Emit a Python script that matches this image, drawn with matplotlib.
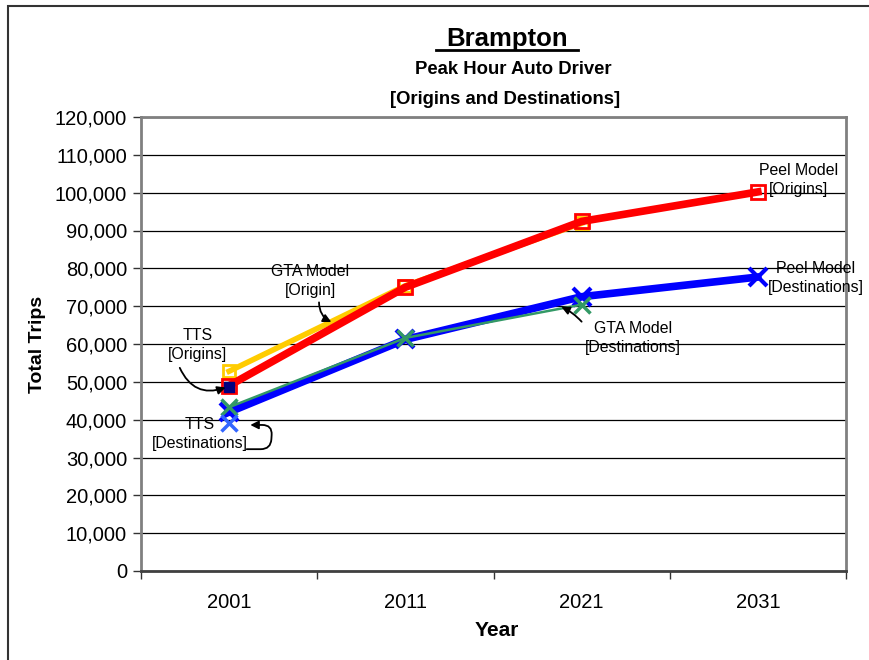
import matplotlib
matplotlib.use("Agg")
import matplotlib.pyplot as plt
from matplotlib.patches import Rectangle
from matplotlib.lines import Line2D
from matplotlib.ticker import FuncFormatter, FixedLocator

plt.rcParams['font.family'] = ['Liberation Sans', 'DejaVu Sans']

years = ["2001", "2011", "2021", "2031"]

# Peel model forecasts
peel_origins = [49000, 75000, 92400, 100200]
peel_destinations = [42000, 61200, 72500, 77700]

# GTA model (no 2031 run)
gta_origins = [52800, 75400, 91900]
gta_destinations = [43300, 61600, 70400]

# TTS survey, 2001 only
tts_origins = [48600]
tts_destinations = [39100]

x = list(range(len(years)))

fig = plt.figure(figsize=(8.69, 6.60), dpi=100)
ax = fig.add_axes([141 / 869, 1 - 571 / 660, 705 / 869, 454 / 660])

ax.plot(x[:3], gta_destinations, color="#339966", lw=1.8, marker="x",
        ms=11, mew=2.5, zorder=4)
ax.plot(x, peel_destinations, color="#0000FF", lw=5.5, marker="x",
        ms=13, mew=3, zorder=3)
ax.plot(x[:3], gta_origins, color="#FFCC00", lw=4, marker="s",
        ms=8, mew=2, mfc="none", zorder=5)
ax.plot(x, peel_origins, color="#FF0000", lw=5.5, marker="s",
        ms=10.5, mew=2, mfc="none", zorder=6)
ax.plot(x[:1], tts_origins, ls="none", marker="s", ms=7, color="#000080",
        zorder=7)
ax.plot(x[:1], tts_destinations, ls="none", marker="x", ms=12, mew=2.5,
        color="#3366FF", zorder=7)

ax.set_xlim(-0.5, 3.5)
ax.set_ylim(0, 120000)
ax.set_yticks(range(0, 120001, 10000))
ax.yaxis.set_major_formatter(FuncFormatter(lambda v, p: f"{int(v):,}"))
ax.set_xticks(x)
ax.set_xticklabels(years)
ax.xaxis.set_minor_locator(FixedLocator([-0.5, 0.5, 1.5, 2.5, 3.5]))
ax.tick_params(axis="x", which="major", length=0, pad=16, labelsize=14.5)
ax.tick_params(axis="x", which="minor", length=6, width=1, color="#333333")
ax.tick_params(axis="y", length=6, width=1, color="#333333", labelsize=14.5,
               pad=4)

ax.grid(axis="y", color="black", lw=0.9, zorder=1)
ax.set_axisbelow(True)
for side in ["left", "top", "right"]:
    ax.spines[side].set_color("#808080")
    ax.spines[side].set_linewidth(2)
ax.spines["bottom"].set_color("#404040")
ax.spines["bottom"].set_linewidth(2)

fig.text(37 / 869, 1 - 344 / 660, "Total Trips", rotation=90, fontsize=14,
         fontweight="bold", ha="center", va="center")
fig.text(497 / 869, 1 - 631 / 660, "Year", fontsize=15, fontweight="bold",
         ha="center", va="center")

# titles
fig.text(507 / 869, 1 - 39 / 660, "Brampton", fontsize=18.5,
         fontweight="bold", ha="center", va="center")
fig.add_artist(Line2D([436 / 869, 578 / 869], [1 - 50 / 660, 1 - 50 / 660],
                      color="black", lw=2, transform=fig.transFigure))
fig.text(513 / 869, 1 - 70 / 660, "Peak Hour Auto Driver", fontsize=13.3,
         fontweight="bold", ha="center", va="center")
fig.text(505 / 869, 1 - 99 / 660, "[Origins and Destinations]",
         fontsize=13.3, fontweight="bold", ha="center", va="center")

# series labels
lab = dict(fontsize=11.4, ha="center", va="center", linespacing=1.35,
           zorder=8)
ax.text(-0.18, 59800, "TTS\n[Origins]", **lab)
ax.text(-0.165, 36200, "TTS\n[Destinations]", **lab)
ax.text(0.46, 76700, "GTA Model\n[Origin]", **lab)
ax.text(2.29, 61600, "GTA Model\n[Destinations]", **lab)
ax.text(3.23, 103400, "Peel Model\n[Origins]", **lab)
ax.text(3.33, 77400, "Peel Model\n[Destinations]", **lab)

arw = dict(arrowstyle="-|>", color="black", lw=1.3, mutation_scale=12,
           shrinkA=0, shrinkB=0)
ax.annotate("", xy=(-0.02, 48500), xytext=(-0.28, 53700),
            arrowprops=dict(arw, connectionstyle="arc3,rad=0.45"), zorder=8)
ax.annotate("", xy=(0.12, 38600), xytext=(0.10, 32200),
            arrowprops=dict(arw, connectionstyle="arc,angleA=0,angleB=0,armA=24,armB=22,rad=10"),
            zorder=8)
ax.annotate("", xy=(0.58, 65800), xytext=(0.51, 71000),
            arrowprops=dict(arw, connectionstyle="arc3,rad=0.3"), zorder=8)
ax.annotate("", xy=(1.885, 69800), xytext=(2.0, 65900),
            arrowprops=dict(arw, connectionstyle="arc3,rad=0.1"), zorder=8)

# page border
fig.add_artist(Rectangle((8 / 869, -0.05), 1.2, 1 - 6 / 660 + 0.05,
                         fill=False, edgecolor="#333333", lw=1.5,
                         transform=fig.transFigure))

fig.savefig("out.png", dpi=100)
